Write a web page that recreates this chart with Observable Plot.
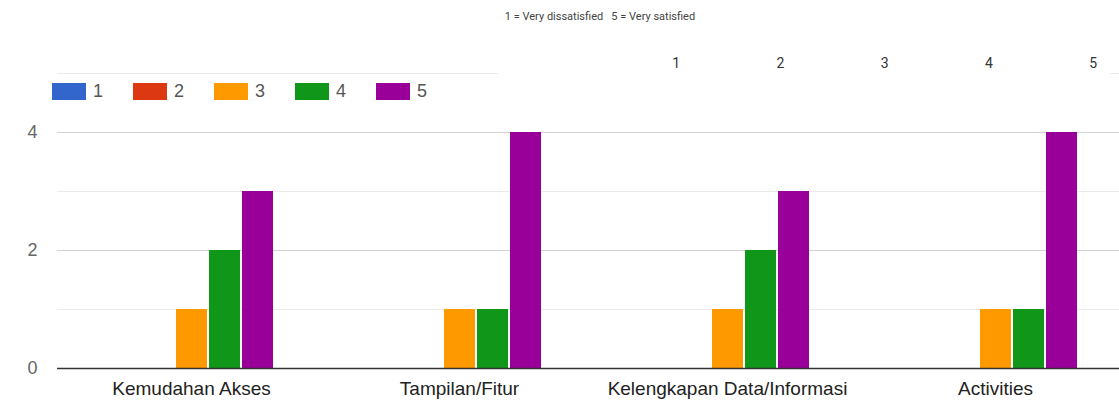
<!DOCTYPE html>
<html><head><meta charset="utf-8">
<script src="https://cdn.jsdelivr.net/npm/d3@7"></script>
<script src="https://cdn.jsdelivr.net/npm/@observablehq/plot@0.6"></script>
<style>
html,body{margin:0;padding:0;background:#fff;overflow:hidden;width:1119px;height:404px}
#wrap{position:relative;width:1119px;height:404px;overflow:hidden}
#caption{height:30px;position:relative}
#caption span{position:absolute;left:600px;top:16px;transform:translate(-50%,-50%);white-space:pre;font-family:Roboto,sans-serif;font-size:11px;color:#444}
#chart{position:absolute;left:0;top:30px;width:1130px}
#chart svg{max-width:none !important}
#scaleRow{position:absolute;left:498px;top:50px;width:612px;height:26px;background:#fff;display:flex;padding-left:126px;box-sizing:border-box}
#scaleRow div{flex:0 0 104.25px;text-align:center;line-height:26px;font-family:Roboto,sans-serif;font-size:14px;color:#333}
#legend{position:absolute;left:52px;top:83px}
.lg-swatches{margin:0 !important;font-family:"Liberation Sans",Arial,sans-serif !important;font-size:18px !important;color:#555 !important;min-height:0 !important;}
.lg-swatch{margin:0 !important;width:81px;line-height:17px;}
.lg-swatch svg{margin-right:7px !important;}
#chart g[aria-label^="y-axis"] text{fill:#666}
#chart g[aria-label^="fx-axis"] text{fill:#222}
</style></head>
<body>
<div id="wrap">
<div id="caption"><span id="capText"></span></div>
<div id="chart"></div>
<div id="scaleRow"></div>
<div id="legend"></div>
</div>
<script>
const captionText = "1 = Very dissatisfied   5 = Very satisfied";
const categories = ["Kemudahan Akses", "Tampilan/Fitur", "Kelengkapan Data/Informasi", "Activities"];
const ratings = ["1", "2", "3", "4", "5"];
const rating1 = [0, 0, 0, 0];
const rating2 = [0, 0, 0, 0];
const rating3 = [1, 1, 1, 1];
const rating4 = [2, 1, 2, 1];
const rating5 = [3, 4, 3, 4];
const colors = ["#3366cc", "#dc3912", "#ff9900", "#109618", "#990099"];
const yTicks = [0, 2, 4];
const majorGrid = [2, 4];
const minorGrid = [1, 3, 5];
const scaleLabels = ["1", "2", "3", "4", "5"];

const series = [rating1, rating2, rating3, rating4, rating5];
const data = categories.flatMap((c, i) => ratings.map((r, j) => ({category: c, rating: r, count: series[j][i]})));

document.getElementById("capText").textContent = captionText;
const row = document.getElementById("scaleRow");
scaleLabels.forEach(t => { const d = document.createElement("div"); d.textContent = t; row.appendChild(d); });

const chart = Plot.plot({
  width: 1130,
  height: 374,
  marginLeft: 56,
  marginRight: 0,
  marginTop: 43,
  marginBottom: 36,
  style: {fontFamily: "'Liberation Sans', Arial, sans-serif", fontSize: "18px", color: "#222", background: "transparent", overflow: "visible", maxWidth: "none"},
  facet: {data, x: "category"},
  fx: {domain: categories, padding: 0, axis: "bottom", label: null, tickSize: 0, tickPadding: 13},
  x: {domain: ratings, paddingInner: 0.075, paddingOuter: 1.53, axis: null},
  y: {domain: [0, 5], ticks: yTicks, tickFormat: d3.format("d"), tickSize: 0, tickPadding: 20, label: null},
  color: {domain: ratings, range: colors},
  marks: [
    Plot.ruleY(minorGrid, {stroke: "#ebebeb", strokeWidth: 1}),
    Plot.ruleY(majorGrid, {stroke: "#d2d2d2", strokeWidth: 1}),
    Plot.barY(data, {x: "rating", y: "count", fill: "rating"}),
    Plot.ruleY([0], {stroke: "#333", strokeWidth: 1.5})
  ]
});
document.getElementById("chart").appendChild(chart);
chart.querySelectorAll('g[aria-label^="fx-axis"] text').forEach(t => t.setAttribute("font-size", "19"));

const legend = Plot.legend({color: {domain: ratings, range: colors}, legend: "swatches", swatchWidth: 34, swatchHeight: 17, className: "lg"});
document.getElementById("legend").appendChild(legend);
</script>
</body></html>
